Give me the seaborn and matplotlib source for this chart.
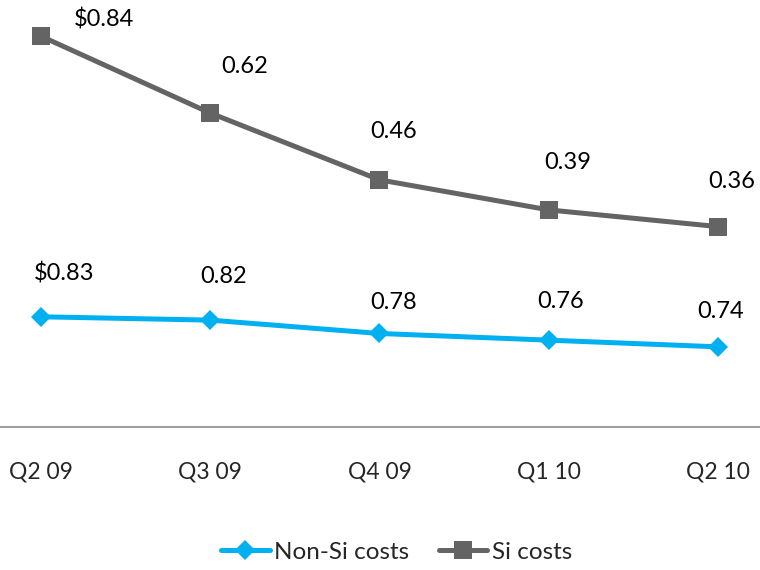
import matplotlib
matplotlib.use("Agg")
import matplotlib.pyplot as plt
import seaborn as sns
import pandas as pd
import numpy as np

quarters = ["Q2 09", "Q3 09", "Q4 09", "Q1 10", "Q2 10"]
non_si = [0.83, 0.82, 0.78, 0.76, 0.74]
si = [0.84, 0.62, 0.46, 0.39, 0.36]
non_si_labels = ["$0.83", "0.82", "0.78", "0.76", "0.74"]
si_labels = ["$0.84", "0.62", "0.46", "0.39", "0.36"]

# label offsets in pixels (style, not data)
non_si_off = [(23, 43), (13, 44), (14, 31), (12, 39), (3, 35)]
si_off = [(63, 17), (34, 47), (14, 48), (19, 47), (14, 45)]

sns.set_theme(style="white")
plt.rcParams["font.family"] = ["Lato", "DejaVu Sans"]

x = np.arange(len(quarters))
stacked = np.array(non_si) + np.array(si)
df = pd.DataFrame({"x": np.concatenate([x, x]),
                   "val": np.concatenate([non_si, stacked]),
                   "series": ["Non-Si costs"] * 5 + ["Si costs"] * 5})

fig = plt.figure(figsize=(7.6, 5.7), dpi=100)
ax = fig.add_axes([0, 1 - 427 / 570, 1, 427 / 570])

c_non = "#00B0F0"
c_si = "#646464"
sns.lineplot(data=df[df.series == "Non-Si costs"], x="x", y="val", ax=ax,
             color=c_non, marker="D", markersize=10, linewidth=3.6,
             markeredgewidth=0, label="Non-Si costs", clip_on=False)
sns.lineplot(data=df[df.series == "Si costs"], x="x", y="val", ax=ax,
             color=c_si, marker="s", markersize=13.5, linewidth=3.6,
             markeredgewidth=0, label="Si costs", clip_on=False)

for i in range(5):
    ax.annotate(non_si_labels[i], (x[i], non_si[i]), xytext=non_si_off[i],
                textcoords="offset pixels", ha="center", va="center",
                fontsize=17, color="black")
    ax.annotate(si_labels[i], (x[i], stacked[i]), xytext=si_off[i],
                textcoords="offset pixels", ha="center", va="center",
                fontsize=17, color="black")

ax.set_xlim(-0.242, 4.248)
ax.set_ylim(0.5, 0.5 + 427 / 334)
ax.set_xticks(x)
ax.set_xticklabels(quarters, fontsize=16.5)
ax.set_yticks([])
ax.set_xlabel("")
ax.set_ylabel("")
ax.tick_params(axis="x", length=0, pad=24.5)
for s in ["top", "left", "right"]:
    ax.spines[s].set_visible(False)
ax.spines["bottom"].set_color("#A0A0A0")
ax.spines["bottom"].set_linewidth(1.5)

ax.legend_.remove()
handles, labels = ax.get_legend_handles_labels()
fig.legend(handles, labels, loc="center", bbox_to_anchor=(0.522, 1 - 552 / 570),
           ncol=2, frameon=False, fontsize=17.5, handlelength=2.0,
           handletextpad=0.2, columnspacing=1.2)

fig.savefig("out.png", dpi=100)
